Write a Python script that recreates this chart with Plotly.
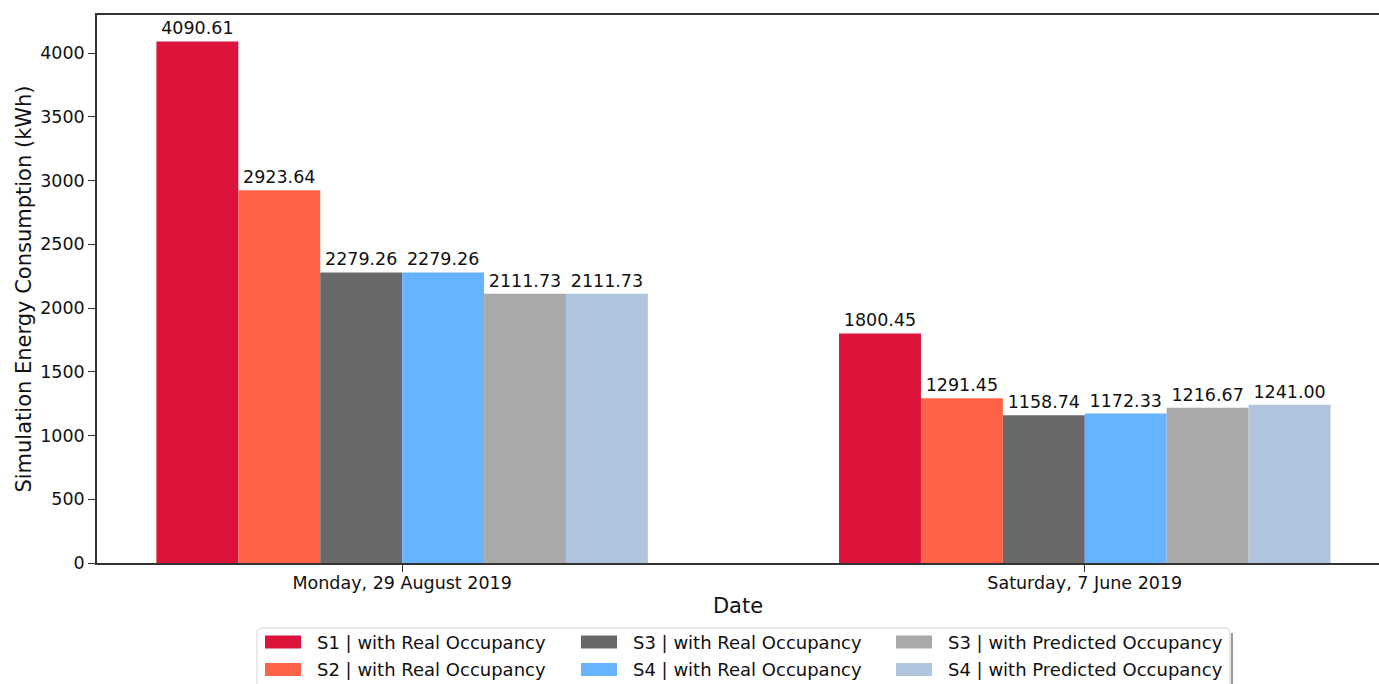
import plotly.graph_objects as go

dates = ["Monday, 29 August 2019", "Saturday, 7 June 2019"]
series_names = [
    "S1 | with Real Occupancy",
    "S2 | with Real Occupancy",
    "S3 | with Real Occupancy",
    "S4 | with Real Occupancy",
    "S3 | with Predicted Occupancy",
    "S4 | with Predicted Occupancy",
]
s1_real = [4090.61, 1800.45]
s2_real = [2923.64, 1291.45]
s3_real = [2279.26, 1158.74]
s4_real = [2279.26, 1172.33]
s3_pred = [2111.73, 1216.67]
s4_pred = [2111.73, 1241.00]
series_values = [s1_real, s2_real, s3_real, s4_real, s3_pred, s4_pred]
colors = ["#DC143C", "#FF6347", "#696969", "#66B3FF", "#A9A9A9", "#B0C4DE"]
y_ticks = [0, 500, 1000, 1500, 2000, 2500, 3000, 3500, 4000]

FONT = "DejaVu Sans"
W, H = 1379, 684
ML, MR, MT, MB = 97, 0, 15, 121
PW, PH = W - ML - MR, H - MT - MB

def px_x(x):
    return (x - ML) / PW

def px_y(y):
    return (H - MB - y) / PH

fig = go.Figure()
xpos = list(range(len(dates)))
for name, vals, col in zip(series_names, series_values, colors):
    fig.add_trace(go.Bar(
        x=xpos, y=vals, name=name,
        marker=dict(color=col, line=dict(width=0)),
        text=[f"{v:.2f}" for v in vals],
        textposition="outside",
        textfont=dict(family=FONT, size=17.5, color="#111111"),
        constraintext="none",
        cliponaxis=False,
        showlegend=False,
    ))

# Legend drawn manually (2 rows x 3 columns, column-major order like the original)
shapes = []
annotations = []
box_l, box_r, box_t, box_b = 257, 1230, 628, 705
r = 5
path = (f"M {px_x(box_l + r)},{px_y(box_t)} L {px_x(box_r - r)},{px_y(box_t)} "
        f"Q {px_x(box_r)},{px_y(box_t)} {px_x(box_r)},{px_y(box_t + r)} "
        f"L {px_x(box_r)},{px_y(box_b)} L {px_x(box_l)},{px_y(box_b)} "
        f"L {px_x(box_l)},{px_y(box_t + r)} Q {px_x(box_l)},{px_y(box_t)} {px_x(box_l + r)},{px_y(box_t)} Z")
shapes.append(dict(type="line", xref="paper", yref="paper",
                   x0=px_x(box_r + 2), x1=px_x(box_r + 2), y0=px_y(box_t + 5), y1=px_y(box_b),
                   line=dict(color="#9A9A9A", width=2)))
shapes.append(dict(type="path", xref="paper", yref="paper", path=path,
                   fillcolor="white", line=dict(color="#D0D0D0", width=1)))
col_swatch_x = [265, 581, 896]
row_cy = [642, 669.5]
for i, (name, col) in enumerate(zip(series_names, colors)):
    c, rr = divmod(i, 2)
    sx = col_swatch_x[c]
    cy = row_cy[rr]
    shapes.append(dict(type="rect", xref="paper", yref="paper",
                       x0=px_x(sx), x1=px_x(sx + 36), y0=px_y(cy - 6.5), y1=px_y(cy + 6.5),
                       fillcolor=col, line=dict(width=0)))
    annotations.append(dict(xref="paper", yref="paper", x=px_x(sx + 50), y=px_y(cy),
                            xanchor="left", yanchor="middle", showarrow=False, text=name,
                            font=dict(family=FONT, size=18, color="#111111")))

fig.update_layout(
    width=W, height=H,
    margin=dict(l=ML, r=MR, t=MT, b=MB),
    paper_bgcolor="white", plot_bgcolor="white",
    barmode="group", bargap=0.28, bargroupgap=0,
    font=dict(family=FONT, size=17.5, color="#111111"),
    showlegend=False,
    shapes=shapes,
    annotations=annotations,
)
fig.update_xaxes(
    range=[-0.447, 1.431], automargin=False,
    tickmode="array", tickvals=xpos, ticktext=dates,
    ticks="outside", ticklen=7, tickcolor="#333333", ticklabelstandoff=-4,
    tickfont=dict(family=FONT, size=17.5, color="#111111"),
    showline=True, linecolor="#333333", linewidth=1.5, mirror=True,
    showgrid=False, zeroline=False,
    title=dict(text="Date", font=dict(family=FONT, size=21, color="#111111"), standoff=7),
)
fig.update_yaxes(
    range=[0, 4298], automargin=False,
    tickmode="array", tickvals=y_ticks,
    ticks="outside", ticklen=7, tickcolor="#333333",
    tickfont=dict(family=FONT, size=17.5, color="#111111"),
    showline=True, linecolor="#333333", linewidth=1.5,
    showgrid=False, zeroline=False,
    title=dict(text="Simulation Energy Consumption (kWh)", font=dict(family=FONT, size=21, color="#111111"), standoff=3),
)
fig.write_html("out.html", config={"displayModeBar": False},
               post_script="document.body.style.margin='0';document.body.style.overflow='hidden';")
